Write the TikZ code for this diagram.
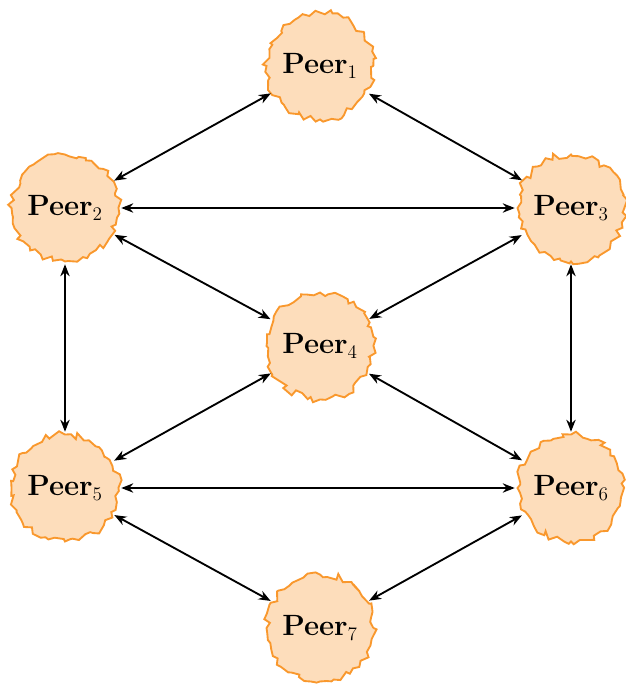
\documentclass[tikz,border=0pt]{standalone}
\usetikzlibrary{arrows.meta,decorations.pathmorphing}
\definecolor{peerfill}{RGB}{253,221,187}
\definecolor{peerline}{RGB}{249,152,45}
\begin{document}
\pgfmathsetseed{5}
\begin{tikzpicture}[x=0.75pt,y=-0.75pt,
  peer/.style={circle, draw=peerline, fill=peerfill, line width=1.4pt,
    minimum size=80pt, inner sep=0pt,
    decorate, decoration={random steps, segment length=4pt, amplitude=2.6pt},
    font=\fontsize{22}{26}\selectfont\bfseries},
  link/.style={{Stealth[length=9pt,width=7pt]}-{Stealth[length=9pt,width=7pt]}, line width=1.4pt, shorten <=1.5pt, shorten >=1.5pt}]
  \useasboundingbox (0,0) rectangle (625,684);
  \node[peer] (p1) at (320,66)  {Peer$_1$};
  \node[peer] (p2) at (65,208)  {Peer$_2$};
  \node[peer] (p3) at (571,208) {Peer$_3$};
  \node[peer] (p4) at (320,346) {Peer$_4$};
  \node[peer] (p5) at (65,488)  {Peer$_5$};
  \node[peer] (p6) at (571,488) {Peer$_6$};
  \node[peer] (p7) at (320,628) {Peer$_7$};
  \draw[link] (p1) -- (p2);
  \draw[link] (p1) -- (p3);
  \draw[link] (p2) -- (p3);
  \draw[link] (p2) -- (p4);
  \draw[link] (p3) -- (p4);
  \draw[link] (p2) -- (p5);
  \draw[link] (p3) -- (p6);
  \draw[link] (p4) -- (p5);
  \draw[link] (p4) -- (p6);
  \draw[link] (p5) -- (p6);
  \draw[link] (p5) -- (p7);
  \draw[link] (p6) -- (p7);
\end{tikzpicture}
\end{document}
